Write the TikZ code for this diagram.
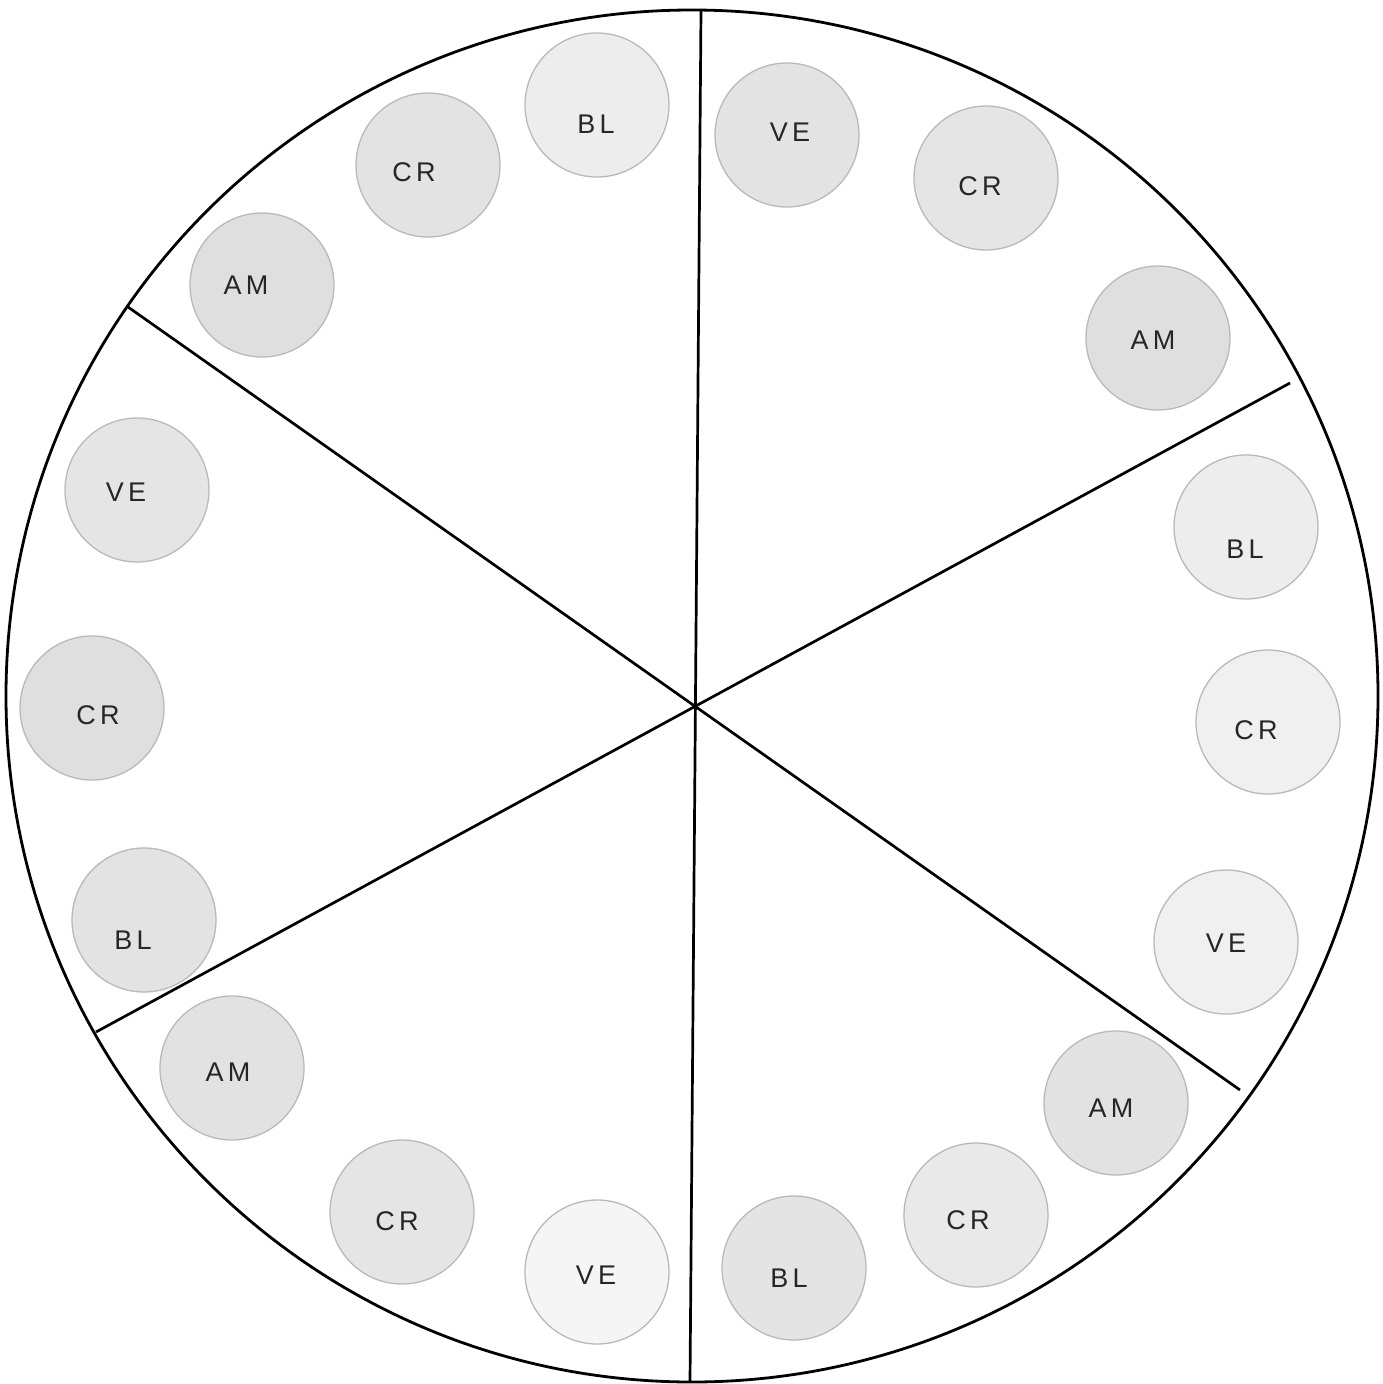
\documentclass[tikz,border=0pt]{standalone}
\usepackage{fontspec}
\newfontfamily\lab[LetterSpace=16]{Liberation Sans}
\begin{document}
\begin{tikzpicture}[x=1pt,y=-1pt,
  disc/.style={circle,minimum size=144pt,inner sep=0pt,draw=gray!55,line width=1.3pt},
  txt/.style={font=\lab\fontsize{27}{30}\selectfont,text=black!85,inner sep=0pt},
  divider/.style={line width=2.7pt,black}]
\useasboundingbox (0,0) rectangle (1382,1384);
\fill[white] (0,0) rectangle (1382,1384);
% outer circle
\node[circle,draw,line width=2.8pt,minimum size=1372pt,inner sep=0pt] (big) at (692,696) {};
% dividers
\coordinate (vt) at (701,10);
\coordinate (vb) at (690,1382);
\coordinate (d1a) at (128,307);
\coordinate (d1b) at (1240,1090);
\coordinate (d2a) at (96,1032);
\coordinate (d2b) at (1290,383);
\draw[divider] (vt) -- (vb);
\draw[divider] (d1a) -- (d1b);
\draw[divider] (d2a) -- (d2b);
% discs
\node[disc,fill=gray!14] (bl1) at (597,105) {};
\node[disc,fill=gray!22] (cr1) at (428,165) {};
\node[disc,fill=gray!25] (am1) at (262,285) {};
\node[disc,fill=gray!22] (ve1) at (787,135) {};
\node[disc,fill=gray!20] (cr2) at (986,178) {};
\node[disc,fill=gray!25] (am2) at (1158,338) {};
\node[disc,fill=gray!14] (bl2) at (1246,527) {};
\node[disc,fill=gray!12] (cr3) at (1268,722) {};
\node[disc,fill=gray!12] (ve2) at (1226,942) {};
\node[disc,fill=gray!23] (am3) at (1116,1103) {};
\node[disc,fill=gray!17] (cr4) at (976,1215) {};
\node[disc,fill=gray!21] (bl3) at (794,1268) {};
\node[disc,fill=gray!8] (ve3) at (597,1272) {};
\node[disc,fill=gray!20] (cr5) at (402,1212) {};
\node[disc,fill=gray!23] (am4) at (232,1068) {};
\node[disc,fill=gray!22] (bl4) at (144,920) {};
\node[disc,fill=gray!25] (cr6) at (92,708) {};
\node[disc,fill=gray!20] (ve4) at (137,490) {};
% labels
\node[txt] (tbl1) at (596,124) {BL};
\node[txt] (tcr1) at (414,172) {CR};
\node[txt] (tam1) at (246,285) {AM};
\node[txt] (tve1) at (790,132) {VE};
\node[txt] (tcr2) at (980,186) {CR};
\node[txt] (tam2) at (1153,340) {AM};
\node[txt] (tbl2) at (1245,549) {BL};
\node[txt] (tcr3) at (1256,730) {CR};
\node[txt] (tve2) at (1226,943) {VE};
\node[txt] (tam3) at (1111,1108) {AM};
\node[txt] (tcr4) at (968,1220) {CR};
\node[txt] (tbl3) at (789,1278) {BL};
\node[txt] (tve3) at (596,1275) {VE};
\node[txt] (tcr5) at (397,1221) {CR};
\node[txt] (tam4) at (228,1072) {AM};
\node[txt] (tbl4) at (133,940) {BL};
\node[txt] (tcr6) at (98,715) {CR};
\node[txt] (tve4) at (126,492) {VE};
\end{tikzpicture}
\end{document}
